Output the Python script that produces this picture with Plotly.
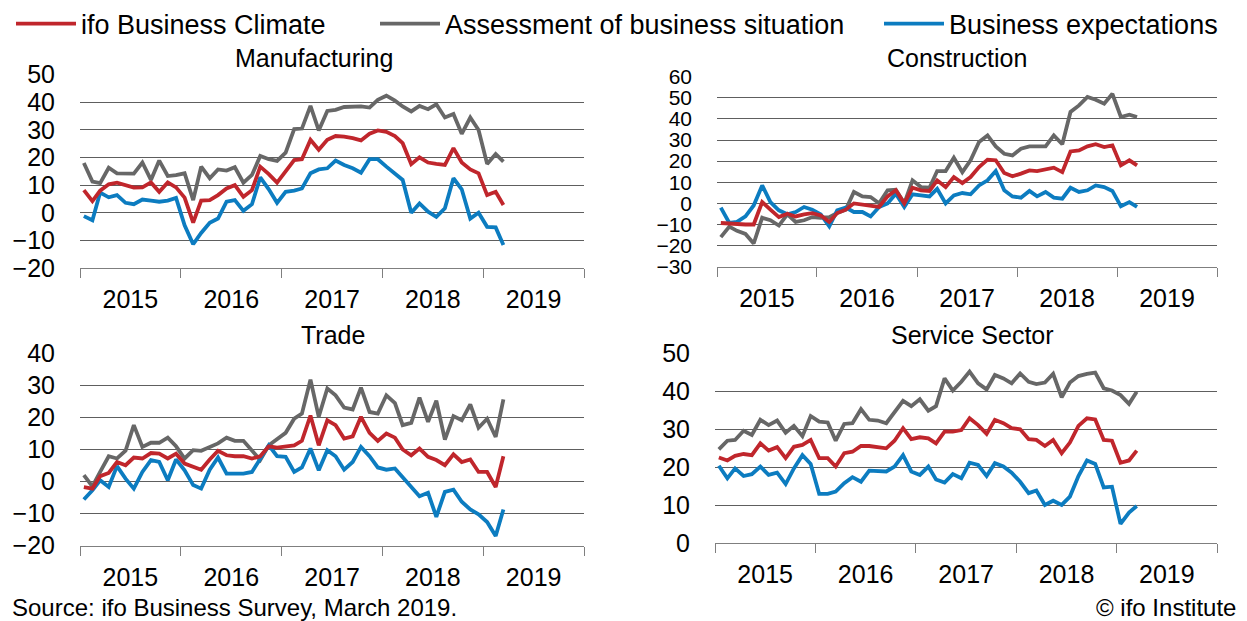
import pandas as pd
import plotly.graph_objects as go

W, H = 1247, 621

months = pd.date_range("2015-01-01", periods=51, freq="MS") + pd.Timedelta(days=14)

series_names = ["ifo Business Climate", "Assessment of business situation", "Business expectations"]
panel_titles = ["Manufacturing", "Construction", "Trade", "Service Sector"]

manu_climate = [8.2, 4.2, 8.0, 10.3, 10.9, 10.0, 9.1, 9.2, 11.0, 7.6, 11.0, 9.2, 5.5, -3.6, 4.4, 4.6, 6.4, 8.8, 10.0, 5.8,
                8.2, 16.7, 14.0, 10.9, 14.9, 19.1, 19.4, 26.4, 22.8, 26.4, 27.8, 27.6, 27.0, 26.2, 28.6, 29.8, 29.3, 27.8, 25.2, 17.6,
                20.1, 18.2, 17.7, 17.3, 23.4, 18.2, 15.7, 14.3, 6.4, 7.6, 2.8]
manu_situation = [18, 11.3, 10.7, 16.3, 14.3, 14.2, 14.2, 18.2, 11.9, 18.9, 13.3, 13.6, 14.3, 4.6, 16.7, 12.5, 15.7, 15.3, 16.5, 10.9,
                  13.7, 20.6, 19.4, 18.8, 21.8, 30.3, 30.5, 38.7, 29.8, 36.9, 37.3, 38.3, 38.4, 38.5, 38.1, 40.9, 42.4, 40.6, 38.5, 36.7,
                  38.7, 37.5, 39.3, 34.5, 35.8, 28.6, 34.5, 30.0, 17.7, 21.3, 18.5]
manu_expect = [-1.2, -2.7, 7.3, 5.6, 6.4, 3.6, 3.1, 4.8, 4.4, 4.0, 4.4, 5.4, -4.5, -11.4, -7.3, -3.6, -2.1, 4.0, 4.6, 0.7,
               3.1, 12.8, 8.5, 3.6, 7.6, 8.0, 8.8, 14.3, 15.7, 16.1, 18.9, 17.3, 16.1, 14.5, 19.4, 19.4, 16.7, 14.3, 11.9, 0.0,
               3.4, 0.4, -1.5, 1.6, 12.5, 8.5, -2.1, 0.0, -5.1, -5.3, -11.7]

cons_climate = [-9.3, -9.6, -10.1, -10, -10, 0.6, -3, -6.5, -4.9, -6.2, -5.2, -4.6, -5.7, -8.8, -4.6, -3, 0, -0.5, -1.4, -1.7,
                3.3, 6.2, 0, 7.4, 6.2, 5.9, 10.9, 7.7, 12.5, 9.6, 12.5, 17.2, 20.7, 20.4, 14.4, 12.8, 14.1, 15.6, 15.3, 15.9,
                16.9, 14.8, 24.6, 25.1, 27, 28, 26.7, 27.5, 18, 20.4, 18]
cons_situation = [-16, -11, -13, -14.5, -19, -6.8, -8, -10.5, -5.2, -8.8, -8, -6.5, -6.8, -6.5, -4.6, -3, 5.4, 3.3, 3, 0,
                  6.2, 6.5, 0, 10.9, 7.7, 7.4, 15.3, 15.3, 21.6, 14.8, 20.4, 29.1, 32.2, 27, 23.5, 22.7, 25.9, 27, 27, 27,
                  32.2, 28, 43.3, 46.4, 50.4, 49.1, 47.2, 51.9, 40.9, 42, 40.9]
cons_expect = [-2, -9.3, -8.8, -6.2, -1, 8.5, 0.6, -3.3, -5.2, -4.1, -1.7, -3, -5.2, -10.9, -3.3, -2, -4.1, -4.1, -6.2, -1.7,
               0, 4.6, -1.7, 4.3, 3.8, 3.3, 6.9, 0, 3.8, 4.9, 4.3, 8.5, 10.9, 15.3, 6.2, 3.3, 2.7, 5.9, 3.3, 5.4,
               2.7, 2.2, 7.4, 5.4, 6.2, 8.5, 7.7, 5.9, -1.4, 0.6, -1.7]

trade_climate = [-1.7, -2.2, 1.7, 2.7, 6.1, 5.1, 7.5, 7.2, 8.9, 8.7, 7.2, 8.7, 5.6, 4.6, 3.7, 6.9, 9.6, 8.2, 7.9, 7.9,
                 7.2, 7.9, 11, 10.6, 11, 11.3, 12.7, 20.6, 11.3, 19.1, 17.6, 13.4, 14.1, 20.2, 15.2, 12.7, 15, 13.7, 10, 8.2,
                 10.3, 7.7, 6.7, 5.1, 8.5, 6.1, 6.9, 3, 3, -1.7, 7.9]
trade_situation = [2, -1.5, 3, 7.9, 7.2, 9.6, 17.6, 10.8, 12.1, 12.1, 13.7, 11, 7.2, 9.8, 9.6, 10.8, 11.9, 13.7, 12.7, 12.7,
                   9.8, 6.7, 11.3, 13.1, 15.2, 19.6, 21.2, 31.8, 20.2, 29, 26.9, 23.1, 22.5, 29.3, 21.7, 21.2, 26.9, 24.5, 17.6, 18.3,
                   26.2, 18.6, 25.2, 13.1, 20.4, 19.1, 24.1, 16.8, 19.6, 13.9, 25.6]
trade_expect = [-5.6, -2.7, 0.4, -1.7, 4.8, 0.9, -2.2, 3, 6.7, 6.1, 0.4, 6.9, 3.5, -1.1, -2.2, 3.7, 7.5, 2.5, 2.5, 2.5,
                3, 7.2, 11.3, 7.9, 7.7, 3, 4.4, 10.3, 3.5, 9.8, 7.9, 3.7, 6.1, 10.8, 7.9, 4.4, 3.7, 4.1, 1.5, -1.7,
                -4.6, -3.5, -11, -3.2, -2.5, -6.3, -8.7, -10.2, -12.6, -17, -8.7]

serv_climate = [22.6, 21.8, 23, 23.5, 23.2, 26.3, 24.4, 25.3, 22.4, 25.4, 25.9, 27.2, 22.4, 22.4, 20.2, 23.7, 24.1, 25.6, 25.6, 25.3,
                25, 27, 30.3, 27.4, 27.9, 27.6, 26.3, 29.4, 29.4, 29.8, 32.9, 31.1, 28.8, 32.5, 31.6, 30.3, 30, 27.4, 27.2, 25.6,
                27.2, 23.7, 26.5, 30.9, 32.9, 32.6, 27.2, 27, 21.2, 21.8, 24.4]
serv_situation = [24.7, 27, 27.2, 29.6, 28.5, 32.5, 31.1, 32.3, 29.1, 30.9, 28.2, 33.5, 32, 31.8, 27, 31.4, 31.6, 35.3, 32.5, 32.3,
                  31.6, 34.4, 37.5, 36.1, 37.9, 34.9, 36.1, 43.4, 40.2, 42.5, 45.2, 42.1, 40.5, 44.3, 43.4, 42.1, 44.7, 42.5, 41.9, 42.3,
                  44.6, 38.4, 42.3, 44, 44.6, 44.9, 40.8, 40.2, 39, 36.7, 39.9]
serv_expect = [20.4, 17.1, 19.7, 17.7, 18.2, 20.2, 18, 18.6, 15.6, 19.7, 23.2, 20.9, 13, 13, 13.6, 15.8, 17.4, 16.2, 19.1, 18.9,
               18.9, 20.2, 23.2, 18.9, 18, 20.2, 16.8, 16, 18.2, 17.1, 21.2, 20.6, 17.7, 21.1, 20.2, 18.6, 16.2, 13.2, 13.9, 10.1,
               11.2, 10.1, 12.3, 17.7, 21.8, 20.9, 14.7, 14.9, 5.1, 8.1, 9.8]

y_ranges = [[-20, 50], [-30, 60], [-20, 40], [0, 50]]

RED, GRAY, BLUE = "#C0262C", "#676767", "#0C7CC0"
FONT = "Liberation Sans, Arial, sans-serif"
FS = 25
y_tick_sizes = [25, 21, 25, 25]

panels = [
    (manu_climate, manu_situation, manu_expect),
    (cons_climate, cons_situation, cons_expect),
    (trade_climate, trade_situation, trade_expect),
    (serv_climate, serv_situation, serv_expect),
]

# plot-area geometry in pixels (left, right, top, bottom)
boxes = [(80, 584, 74.7, 268), (717, 1217, 76.7, 266.7), (80, 584, 353.3, 545.7), (715, 1217, 353.3, 543.3)]
title_pos = [(314, 58), (957, 58), (333, 335), (972, 335)]

fig = go.Figure()
legend_ids = ["legend", "legend2", "legend3"]
colors = [RED, GRAY, BLUE]
draw_order = [1, 2, 0]  # gray, blue, red on top

for p, data in enumerate(panels):
    xa = "x" if p == 0 else f"x{p+1}"
    ya = "y" if p == 0 else f"y{p+1}"
    for k in draw_order:
        fig.add_trace(go.Scatter(
            x=months, y=data[k], mode="lines", name=series_names[k],
            line=dict(color=colors[k], width=3.8),
            xaxis=xa, yaxis=ya,
            showlegend=(p == 0), legend=legend_ids[k],
            hoverinfo="skip",
        ))

layout = dict(
    width=W, height=H,
    margin=dict(l=0, r=0, t=0, b=0, autoexpand=False),
    paper_bgcolor="white", plot_bgcolor="white",
    font=dict(family=FONT, size=FS, color="black"),
    showlegend=True,
)

for p, (l, r, t, b) in enumerate(boxes):
    xkey = "xaxis" if p == 0 else f"xaxis{p+1}"
    ykey = "yaxis" if p == 0 else f"yaxis{p+1}"
    ya = "y" if p == 0 else f"y{p+1}"
    xa = "x" if p == 0 else f"x{p+1}"
    layout[xkey] = dict(
        domain=[l / W, r / W], anchor=ya,
        type="date", range=["2015-01-01", "2020-01-01"],
        dtick="M12", tick0="2015-01-01", tickformat="%Y", ticklabelmode="period",
        ticks="outside", ticklen=9, tickcolor="#7f7f7f", tickwidth=1.3,
        showline=True, linecolor="#7f7f7f", linewidth=1.3,
        showgrid=False, zeroline=False, fixedrange=True,
        tickfont=dict(size=FS), ticklabelstandoff=0,
    )
    layout[ykey] = dict(
        domain=[1 - b / H, 1 - t / H], anchor=xa,
        range=y_ranges[p], dtick=10,
        showgrid=True, gridcolor="#5e5e5e", gridwidth=1.2,
        zeroline=False, showline=False, ticks="",
        tickfont=dict(size=y_tick_sizes[p]), ticklabelstandoff=24, fixedrange=True,
    )

fig.update_layout(**layout)

for p, (tx, ty) in enumerate(title_pos):
    fig.add_annotation(text=panel_titles[p], x=tx / W, y=1 - ty / H, xref="paper", yref="paper",
                       xanchor="center", yanchor="middle", showarrow=False, font=dict(size=FS))

fig.add_annotation(text="Source: ifo Business Survey, March 2019.", x=10 / W, y=1 - 607 / H, xref="paper", yref="paper",
                   xanchor="left", yanchor="middle", showarrow=False, font=dict(size=24))
fig.add_annotation(text="© ifo Institute", x=1238 / W, y=1 - 607 / H, xref="paper", yref="paper",
                   xanchor="right", yanchor="middle", showarrow=False, font=dict(size=24))

leg_x = [11, 375, 879]
for k, lid in enumerate(legend_ids):
    fig.update_layout({lid: dict(x=leg_x[k] / W, y=1 - 24 / H, xanchor="left", yanchor="middle",
                                 orientation="h", bgcolor="rgba(0,0,0,0)", borderwidth=0,
                                 itemwidth=60, font=dict(size=27))})

fig.write_html("out.html", config={"displayModeBar": False},
               post_script="document.body.style.margin='0px';document.body.style.overflow='hidden';")
